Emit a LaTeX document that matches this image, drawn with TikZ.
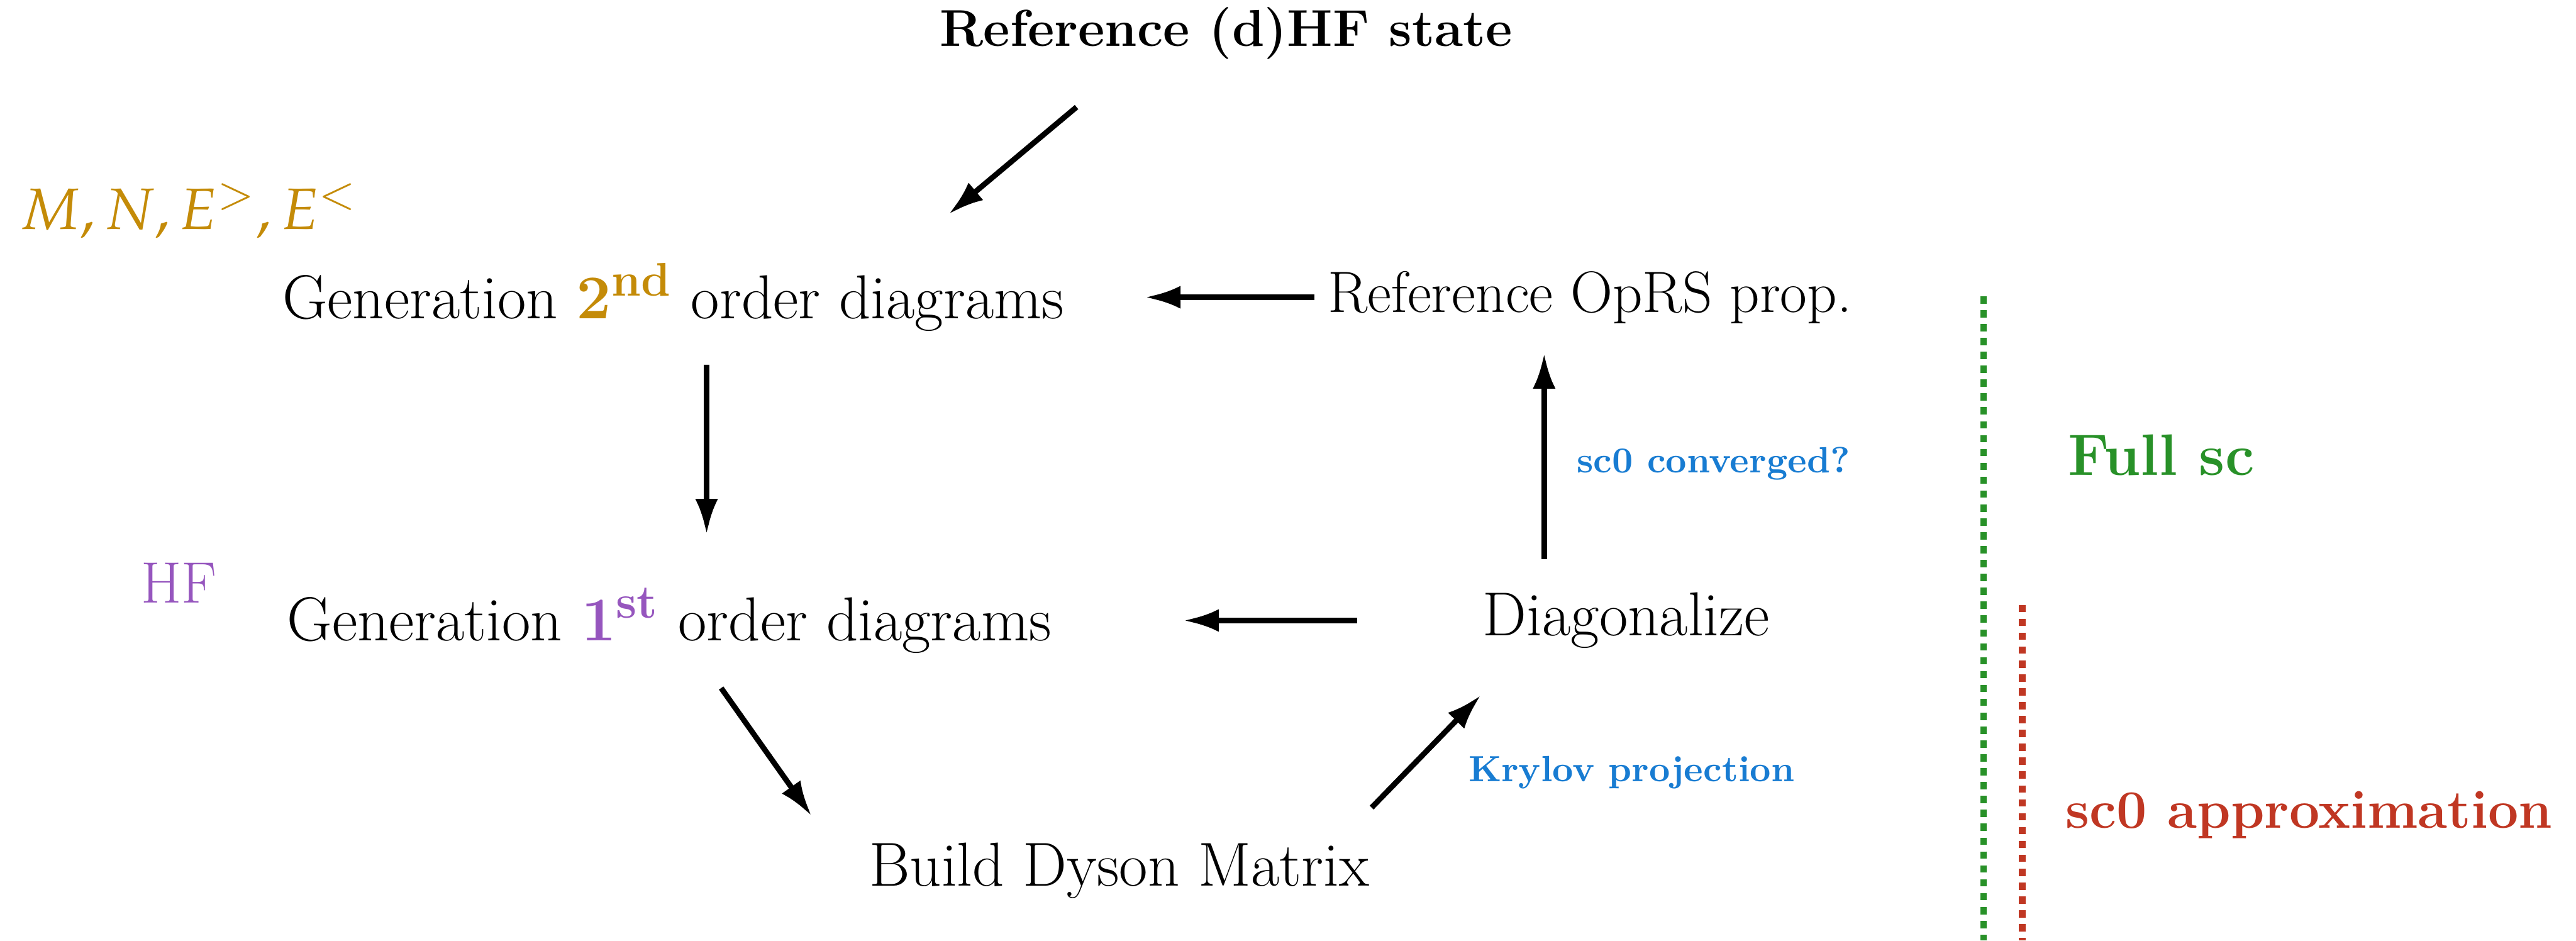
\documentclass[tikz,border=0pt]{standalone}
\usepackage{mathpazo}
\renewcommand{\rmdefault}{lmr}
\usetikzlibrary{arrows.meta,positioning}
\definecolor{ordgold}{RGB}{196,139,8}
\definecolor{ordpurple}{RGB}{150,86,190}
\definecolor{noteblue}{RGB}{24,124,210}
\definecolor{scgreen}{RGB}{40,145,40}
\definecolor{scred}{RGB}{192,55,35}

\begin{document}
\begin{tikzpicture}[
      step text/.style={inner sep=0pt,font=\fontsize{17}{20}\selectfont},
      side text/.style={inner sep=0pt,font=\fontsize{16}{19}\selectfont},
      note/.style={inner sep=0pt,text=noteblue,font=\fontsize{10}{12}\selectfont\bfseries},
      regime/.style={inner sep=0pt,font=\fontsize{16}{20}\selectfont\bfseries},
      arr/.style={-{Latex[length=3.4mm,width=2.2mm]},line width=1.5pt},
      sep/.style={line width=1.8pt,dash pattern=on 2pt off 1.8pt}]
    \useasboundingbox (0,0) rectangle (24.79,-9.05);
    \node[step text,font=\fontsize{14.2}{17}\selectfont\bfseries] (ref) at (11.80,-0.32) {Reference (d)HF state};
    \node[step text] (gen2) at (6.48,-2.86) {Generation \textcolor{ordgold}{\textbf{2}\textsuperscript{\textbf{nd}}} order diagrams};
    \node[step text,font=\fontsize{16}{19}\selectfont] (opr) at (15.30,-2.86) {Reference OpRS prop.};
    \node[step text] (gen1) at (6.44,-5.97) {Generation \textcolor{ordpurple}{\textbf{1}\textsuperscript{\textbf{st}}} order diagrams};
    \node[step text] (diag) at (15.65,-5.97) {Diagonalize};
    \node[step text] (dyson) at (10.77,-8.38) {Build Dyson Matrix};
    % inputs of the diagram generation
    \node[side text,text=ordgold,anchor=west] (mne) at (0.19,-2.03) {$M, N, E^{>}, E^{<}$};
    \node[side text,text=ordpurple] (hf) at (1.72,-5.61) {HF};
    % loop labels
    \node[note] (conv) at (16.49,-4.46) {sc0 converged?};
    \node[note] (kry) at (15.70,-7.43) {Krylov projection};
    % self-consistency regimes
    \node[regime,text=scgreen] (full) at (20.80,-4.38) {Full sc};
    \node[regime,text=scred,font=\fontsize{14.8}{18}\selectfont\bfseries] (sc0) at (22.22,-7.84) {sc0 approximation};
    \coordinate (fulltop) at (19.09,-2.85);
    \coordinate (fullbot) at (19.09,-9.05);
    \coordinate (sc0top) at (19.46,-5.82);
    \coordinate (sc0bot) at (19.46,-9.05);
    \draw[sep,scgreen] (fulltop) -- (fullbot);
    \draw[sep,scred] (sc0top) -- (sc0bot);
    % the cycle
    \draw[arr] ([shift={(-1.44,-0.71)}]ref.center) -- ([shift={(2.65,0.80)}]gen2.center);
    \draw[arr] ([shift={(-2.65,0)}]opr.center) -- ([shift={(4.54,0)}]gen2.center);
    \draw[arr] ([shift={(0.32,-0.65)}]gen2.center) -- ([shift={(0.36,0.83)}]gen1.center);
    \draw[arr] ([shift={(-2.59,0)}]diag.center) -- ([shift={(4.95,0)}]gen1.center);
    \draw[arr] ([shift={(-0.79,0.59)}]diag.center) -- ([shift={(-0.44,-0.54)}]opr.center);
    \draw[arr] ([shift={(0.50,-0.65)}]gen1.center) -- ([shift={(-2.96,0.53)}]dyson.center);
    \draw[arr] ([shift={(2.43,0.61)}]dyson.center) -- ([shift={(-1.40,-0.72)}]diag.center);
  \end{tikzpicture}
\end{document}
